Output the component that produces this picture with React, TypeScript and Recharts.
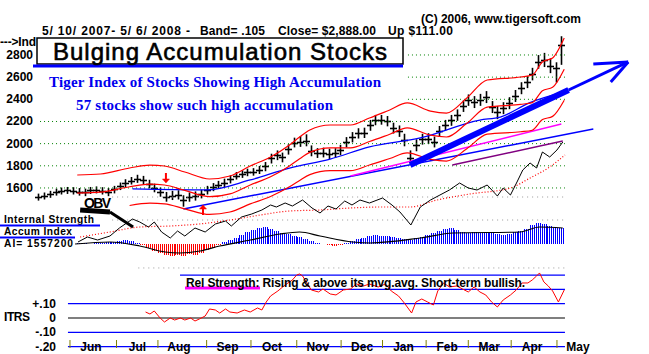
import React from "react";
import {
  ComposedChart,
  XAxis,
  YAxis,
  Line,
  Bar,
  Scatter,
  ReferenceLine,
} from "recharts";

const W = 649;
const H = 354;
const SANS = "'Liberation Sans', Arial, sans-serif";
const SERIF = "'Liberation Serif', 'Times New Roman', serif";

// month ticks (session days from 5/10/2007)
const monthTicks = [22, 54, 82.5, 116, 146.5, 178, 208.5, 237, 267, 296, 325.5, 357];
const monthLabels = ["Jun", "Jul", "Aug", "Sep", "Oct", "Nov", "Dec", "Jan", "Feb", "Mar", "Apr", "May"];
const priceTicks = [1600, 1800, 2000, 2200, 2400, 2600, 2800];
const itrsTicks = [0.1, 0, -0.1, -0.2];
const itrsTickLabels: Record<string, string> = { "0.1": "+.10", "0": "0", "-0.1": "-.10", "-0.2": "-.20" };

// price bars, every 4 sessions
const barDays = [
  0, 4, 8, 12, 16, 20, 24, 28, 32, 36, 40, 44, 48, 52, 56, 60, 64, 68, 72, 76, 80, 84, 88, 92, 96,
  100, 104, 108, 112, 116, 120, 124, 128, 132, 136, 140, 144, 148, 152, 156, 160, 164, 168, 172,
  176, 180, 184, 188, 192, 196, 200, 204, 208, 212, 216, 220, 224, 228, 232, 236, 240, 244, 248,
  252, 256, 260, 264, 268, 272, 276, 280, 284, 288, 292, 296, 300, 304, 308, 312, 316, 320, 324,
  328, 332, 336, 340, 344, 348, 352, 356, 360,
];
const closes = [
  1518, 1530, 1546, 1564, 1573, 1582, 1573, 1566, 1560, 1580, 1584, 1573, 1562, 1591, 1618, 1645,
  1667, 1683, 1672, 1636, 1600, 1562, 1520, 1530, 1540, 1490, 1520, 1528, 1546, 1582, 1609, 1630,
  1645, 1680, 1712, 1726, 1740, 1748, 1762, 1795, 1870, 1897, 1875, 1952, 2010, 2015, 2025, 1934,
  1916, 1918, 1905, 1916, 1943, 2015, 2060, 2096, 2096, 2168, 2213, 2215, 2204, 2141, 2114, 2033,
  1870, 1988, 2042, 2045, 2015, 2114, 2168, 2213, 2258, 2340, 2394, 2376, 2394, 2421, 2331, 2285,
  2322, 2367, 2430, 2502, 2556, 2628, 2737, 2755, 2700, 2680, 2888,
];
const lows = [
  1495, 1505, 1520, 1540, 1550, 1555, 1550, 1540, 1535, 1555, 1560, 1550, 1535, 1560, 1590, 1615,
  1640, 1655, 1645, 1605, 1570, 1530, 1485, 1500, 1505, 1440, 1485, 1495, 1515, 1550, 1580, 1600,
  1615, 1650, 1685, 1700, 1715, 1720, 1735, 1760, 1830, 1860, 1840, 1910, 1975, 1980, 1985, 1895,
  1880, 1885, 1870, 1880, 1905, 1975, 2020, 2055, 2060, 2125, 2175, 2180, 2165, 2100, 2070, 1985,
  1826, 1940, 2000, 2005, 1975, 2070, 2125, 2170, 2215, 2295, 2350, 2330, 2350, 2375, 2285, 2230,
  2275, 2320, 2385, 2455, 2510, 2580, 2685, 2700, 2645, 2560, 2720,
];
const highs = [
  1540, 1550, 1565, 1585, 1595, 1600, 1598, 1590, 1585, 1600, 1605, 1598, 1590, 1610, 1640, 1670,
  1690, 1710, 1700, 1665, 1630, 1595, 1555, 1565, 1570, 1525, 1550, 1560, 1575, 1610, 1635, 1655,
  1675, 1705, 1735, 1750, 1765, 1770, 1790, 1825, 1900, 1930, 1910, 1985, 2045, 2060, 2075, 1975,
  1950, 1955, 1945, 1950, 1980, 2050, 2095, 2130, 2135, 2205, 2250, 2250, 2240, 2180, 2155, 2080,
  1930, 2030, 2080, 2085, 2055, 2150, 2205, 2250, 2300, 2380, 2435, 2420, 2440, 2465, 2375, 2330,
  2365, 2410, 2475, 2545, 2600, 2675, 2790, 2810, 2760, 2725, 2960,
];
// accumulation index histogram
const accum = [
  0, 0, 0, 0, 0, 0, 0, 1, 1, 0, 1, 1, 2, 2, 3, 4, 3, 1, -1, -4, -7, -9, -11, -12, -11, -12, -10,
  -11, -9, -6, -4, -1, 2, 4, 6, 9, 12, 14, 16, 17, 15, 13, 11, 10, 8, 7, 5, 3, 1, 0, -1, -2, -1, 1,
  3, 5, 6, 8, 9, 8, 8, 7, 6, 5, 4, 6, 7, 9, 11, 13, 15, 16, 14, 12, 11, 12, 11, 12, 11, 10, 9, 10,
  12, 13, 15, 19, 21, 20, 18, 16, 16,
];

// 21-day band
const bandDays = [27, 43, 63, 77, 87, 101, 118, 132, 146, 160, 173, 180, 187, 201, 215, 228, 242, 254, 270, 281, 295, 309, 332, 340, 347, 354, 362];
const upperBand = [1717, 1726, 1780, 1807, 1798, 1744, 1681, 1708, 1798, 1880, 1988, 2060, 2123, 2168, 2168, 2231, 2304, 2367, 2294, 2276, 2412, 2574, 2601, 2619, 2737, 2773, 2953];
const midBand = [1554, 1562, 1611, 1635, 1627, 1578, 1521, 1546, 1627, 1701, 1799, 1864, 1921, 1962, 1962, 2019, 2085, 2142, 2076, 2060, 2183, 2329, 2354, 2370, 2477, 2509, 2672];
const lowerBand = [null, null, 1442, 1463, 1456, 1412, 1361, 1383, 1456, 1523, 1610, 1668, 1720, 1756, 1756, 1807, 1866, 1917, 1858, 1843, 1954, 2085, 2107, 2121, 2217, 2246, 2392];

// 50-day ma
const maDays = [65, 116, 146, 173, 201, 228, 263, 304, 318, 338, 362];
const ma50 = [1591, 1582, 1672, 1780, 1861, 1970, 2051, 2213, 2240, 2367, 2466];

// trend lines
const trendDays = [100, 382];
const trendVals = [1410, 2132];
const magDays = [215, 360];
const magVals = [1708, 2177];
const obvTrendDays = [285, 361];
const obvTrendVals = [75, 99];

// OBV
const obvDays = [27.5, 34, 41, 49.5, 56, 65, 70, 76, 80, 85, 91, 96, 101, 108, 115, 122, 129, 133, 140, 147, 154, 160, 164, 170, 175, 182, 188.5, 194, 199.5, 205, 211, 216, 221.5, 228, 237, 243.5, 249, 256.5, 263, 270, 276.5, 283, 290, 296, 302, 309, 316, 320, 325, 329.5, 333.5, 338.5, 343, 347, 352, 357, 361];
const obv = [-2, 3, 0, 4, 12, 21, 18, 13, 18, 8, 2, 9, 4, 12, 8, 16, 19, 14, 23, 26, 30, 35, 33, 37, 34, 40, 32, 27, 34, 31, 39, 35, 40, 37, 42, 35, 28, 15, 33, 40, 45, 50, 57, 52, 50, 55, 44, 52, 45, 58, 70, 77, 72, 88, 83, 90, 98];
const obvMaDays = [29, 49.5, 70, 91, 111, 132, 153, 173, 194, 215, 235, 256, 274.5, 297, 325, 338.5, 352, 362.5];
const obvMa = [3, 8, 13, 14, 16, 20, 25, 29, 30, 32, 33, 33, 40, 46, 52, 62, 73, 85];

// AI moving average
const aiMaDays = [25.5, 49.5, 70, 87.5, 97.5, 111.5, 125, 146, 166.5, 180, 194, 216.5, 228.5, 263, 285.5, 331.5, 345, 361];
const aiMa = [0, 2, -2, -8, -9, -7, -2, 4, 10, 12, 8, 2, 1, 6, 11, 12, 17, 16];

// ITRS (relative strength)
const itrsDays = [74, 77, 80, 84, 87, 91, 94, 98, 101, 105, 108, 111, 115, 118, 122, 125, 129, 132, 137, 142, 146, 151, 154, 157, 160, 165, 170, 175, 178, 180, 182, 185, 188, 193, 196, 201, 205, 210, 215, 219, 224, 228, 234, 239, 243, 248, 252, 257, 260, 264, 268, 272, 275, 279, 283, 288, 292, 296, 300, 304, 308, 312, 316, 320, 325, 329, 333, 337, 340, 343, 345, 348, 351, 354, 358, 362];
const itrs = [0.042, 0.028, 0.049, 0.0, -0.028, 0.0, -0.014, 0.0, -0.014, 0.0, -0.021, -0.007, 0.014, 0.063, 0.056, 0.035, 0.063, 0.042, 0.035, 0.056, 0.042, 0.07, 0.056, 0.112, 0.154, 0.189, 0.231, 0.266, 0.301, 0.308, 0.294, 0.245, 0.196, 0.182, 0.203, 0.168, 0.161, 0.196, 0.203, 0.238, 0.224, 0.238, 0.217, 0.238, 0.189, 0.154, 0.105, 0.035, 0.112, 0.133, 0.112, 0.091, 0.189, 0.245, 0.217, 0.224, 0.203, 0.182, 0.217, 0.182, 0.161, 0.112, 0.077, 0.126, 0.161, 0.196, 0.245, 0.245, 0.266, 0.294, 0.315, 0.252, 0.224, 0.189, 0.112, 0.196];

// buy / sell signals
const signals = [
  { d: 88, p: 1690, kind: "sell" },
  { d: 113.5, p: 1401, kind: "buy" },
];

const bars = barDays.map((d, i) => ({
  d,
  cl: closes[i],
  lo: lows[i],
  hi: highs[i],
  range: [lows[i], highs[i]],
  ai: accum[i],
}));
const pts = (days: number[], vals: (number | null)[]) => days.map((d, i) => ({ d, v: vals[i] }));

const HlcBar = (props: any) => {
  const { x, y, width, height, payload } = props;
  if (!payload || x == null) return null;
  const top = Math.min(y, y + height);
  const h = Math.abs(height);
  const cx = Math.round(x + width / 2) + 0.5;
  const cy = Math.round(top + (h * (payload.hi - payload.cl)) / (payload.hi - payload.lo)) + 0.5;
  return (
    <g stroke="#000" strokeWidth={1.6}>
      <line x1={cx} x2={cx} y1={top - 1} y2={top + h + 1} />
      <line x1={cx - 3.5} x2={cx + 3.5} y1={cy} y2={cy} />
    </g>
  );
};

const AiBar = (props: any) => {
  const { x, y, width, height, payload } = props;
  if (!payload || !payload.ai) return null;
  const top = Math.min(y, y + height);
  const h = Math.abs(height);
  const cx = Math.round(x + width / 2);
  const color = payload.ai >= 0 ? "#0000ff" : "#ff0000";
  return (
    <g stroke={color} strokeWidth={1}>
      {[-2, 0, 2].map((k) => (
        <line key={k} x1={cx + k + 0.5} x2={cx + k + 0.5} y1={top} y2={top + h} />
      ))}
    </g>
  );
};

const SignalArrow = (props: any) => {
  const { cx, cy, payload } = props;
  const dir = payload.kind === "sell" ? 1 : -1;
  return (
    <g fill="#ff0000" stroke="#ff0000">
      <line x1={cx} x2={cx} y1={cy - 5 * dir} y2={cy + dir} strokeWidth={2} />
      <polygon points={`${cx - 3.5},${cy + dir} ${cx + 3.5},${cy + dir} ${cx},${cy + 5 * dir}`} strokeWidth={0.5} />
    </g>
  );
};

const MonthTick = (props: any) => {
  const { x, payload } = props;
  const idx = monthTicks.indexOf(payload.value);
  return (
    <g>
      <line x1={x} x2={x} y1={340} y2={348} stroke="#808000" strokeWidth={1} />
      <text x={x + 21} y={351} textAnchor="middle" fontFamily={SANS} fontWeight="bold" fontSize={12} fill="#000">
        {monthLabels[idx]}
      </text>
    </g>
  );
};

const PriceTick = (props: any) => (
  <text x={33} y={props.y + 4} textAnchor="end" fontFamily={SANS} fontWeight="bold" fontSize={12} fill="#000">
    {props.payload.value}
  </text>
);

const ItrsTick = (props: any) => (
  <text x={56} y={props.y + 4} textAnchor="end" fontFamily={SANS} fontWeight="bold" fontSize={12} fill="#000">
    {itrsTickLabels[String(props.payload.value)]}
  </text>
);

const seg = (x1: number, x2: number, y: number) => [
  { x: x1, y },
  { x: x2, y },
];

const lbl = { fontFamily: SANS, fontWeight: "bold" as const, fontSize: 12, fill: "#000" };
const lineProps = { dot: false, activeDot: false, isAnimationActive: false, legendType: "none" as const };

export default function App() {
  return (
    <div style={{ position: "absolute", left: 0, top: 0, width: W, height: H, background: "#fff" }}>
      <ComposedChart
        width={W}
        height={H}
        data={bars}
        margin={{ top: 0, right: 0, bottom: -1, left: -2 }}
        barGap={0}
        barCategoryGap={0}
      >
        <XAxis
          dataKey="d"
          type="number"
          domain={[-26.14, 420.31]}
          allowDataOverflow
          ticks={monthTicks}
          interval={0}
          height={1}
          axisLine={false}
          tickLine={false}
          tick={<MonthTick />}
        />
        <YAxis
          yAxisId="price"
          type="number"
          domain={[101.9, 3296]}
          allowDataOverflow
          ticks={priceTicks}
          interval={0}
          width={1}
          axisLine={false}
          tickLine={false}
          tick={<PriceTick />}
        />
        <YAxis
          yAxisId="itrs"
          type="number"
          domain={[-0.2517, 2.2238]}
          allowDataOverflow
          ticks={itrsTicks}
          interval={0}
          width={1}
          axisLine={false}
          tickLine={false}
          tick={<ItrsTick />}
        />
        <YAxis yAxisId="obv" type="number" domain={[-114, 240]} allowDataOverflow hide />
        <YAxis yAxisId="ai" type="number" domain={[-110, 244]} allowDataOverflow hide />

        {/* price grid */}
        {priceTicks.map((p) => (
          <ReferenceLine
            key={p}
            yAxisId="price"
            segment={seg(p >= 2400 ? 254.5 : 1.4, 362.5, p)}
            stroke="#008000"
            strokeDasharray="1 3"
          />
        ))}
        {/* obv grid */}
        {[43, 20].map((v) => (
          <ReferenceLine key={v} yAxisId="obv" segment={seg(51, 362.5, v)} stroke="#999" strokeDasharray="1 4" />
        ))}
        {/* itrs levels */}
        <ReferenceLine yAxisId="itrs" segment={seg(69, 362.5, 0.35)} stroke="#999" strokeDasharray="1 4" />
        <ReferenceLine yAxisId="itrs" segment={seg(97.7, 362.5, 0.3)} stroke="#0000ff" strokeWidth={1.2} />
        <ReferenceLine yAxisId="itrs" segment={seg(178, 362.5, 0.2)} stroke="#0000ff" strokeWidth={1.2} />
        <ReferenceLine yAxisId="itrs" segment={seg(20.6, 362.5, 0.1)} stroke="#0000ff" strokeWidth={1.2} />
        <ReferenceLine yAxisId="itrs" segment={seg(20.6, 362.5, 0)} stroke="#000" strokeWidth={1.2} />
        <ReferenceLine yAxisId="itrs" segment={seg(20.6, 362.5, -0.1)} stroke="#0000ff" strokeWidth={1.2} />
        <ReferenceLine yAxisId="itrs" segment={seg(20.6, 362.5, -0.2)} stroke="#0000ff" strokeWidth={1.2} />

        {/* accumulation index */}
        <Bar yAxisId="ai" dataKey="ai" barSize={3} shape={<AiBar />} isAnimationActive={false} />
        <Line yAxisId="ai" data={pts(aiMaDays, aiMa)} dataKey="v" type="monotone" stroke="#000" strokeWidth={1.2} {...lineProps} />

        {/* OBV */}
        <Line yAxisId="obv" data={pts(obvMaDays, obvMa)} dataKey="v" type="monotone" stroke="#ff0000" strokeDasharray="1 2" strokeWidth={1.2} {...lineProps} />
        <Line yAxisId="obv" data={pts(obvDays, obv)} dataKey="v" type="linear" stroke="#000" strokeWidth={1} {...lineProps} />
        <Line yAxisId="obv" data={pts(obvTrendDays, obvTrendVals)} dataKey="v" type="linear" stroke="#800080" strokeWidth={1.5} {...lineProps} />

        {/* relative strength */}
        <Line yAxisId="itrs" data={pts(itrsDays, itrs)} dataKey="v" type="linear" stroke="#ff0000" strokeWidth={1} {...lineProps} />

        {/* price overlays */}
        <Line yAxisId="price" data={pts(trendDays, trendVals)} dataKey="v" type="linear" stroke="#0000ff" strokeWidth={1.5} {...lineProps} />
        <Line yAxisId="price" data={pts(magDays, magVals)} dataKey="v" type="linear" stroke="#ff00ff" strokeWidth={1.5} {...lineProps} />
        <Line yAxisId="price" data={pts(maDays, ma50)} dataKey="v" type="monotone" stroke="#0000ff" strokeWidth={1.3} {...lineProps} />
        <Line yAxisId="price" data={pts(bandDays, upperBand)} dataKey="v" type="monotone" stroke="#ff0000" strokeWidth={1.2} {...lineProps} />
        <Line yAxisId="price" data={pts(bandDays, midBand)} dataKey="v" type="monotone" stroke="#ff0000" strokeWidth={1.2} {...lineProps} />
        <Line yAxisId="price" data={pts(bandDays, lowerBand)} dataKey="v" type="monotone" stroke="#ff0000" strokeWidth={1.2} {...lineProps} />

        <Bar yAxisId="price" dataKey="range" barSize={2} shape={<HlcBar />} isAnimationActive={false} />

        <Scatter yAxisId="price" data={signals} dataKey="p" shape={<SignalArrow />} isAnimationActive={false} />

        {/* annotation arrow */}
        <ReferenceLine yAxisId="price" segment={[{ x: 256, y: 1807 }, { x: 365, y: 2484 }]} stroke="#0000ff" strokeWidth={6} />
        <ReferenceLine yAxisId="price" segment={[{ x: 365, y: 2484 }, { x: 406, y: 2737 }]} stroke="#0000ff" strokeWidth={3} />
        <ReferenceLine yAxisId="price" segment={[{ x: 406, y: 2737 }, { x: 382, y: 2719 }]} stroke="#0000ff" strokeWidth={3} />
        <ReferenceLine yAxisId="price" segment={[{ x: 406, y: 2737 }, { x: 394, y: 2556 }]} stroke="#0000ff" strokeWidth={3} />
        {/* OBV pointer */}
        <ReferenceLine yAxisId="obv" segment={[{ x: 29, y: 30 }, { x: 49.5, y: 28 }]} stroke="#000" strokeWidth={5} />
        <ReferenceLine yAxisId="obv" segment={[{ x: 49.5, y: 28 }, { x: 65.4, y: 13 }]} stroke="#000" strokeWidth={3} />
      </ComposedChart>

      <svg width={W} height={H} style={{ position: "absolute", left: 0, top: 0, pointerEvents: "none" }}>
        <text x={421} y={23} {...lbl} textLength={160}>(C) 2006, www.tigersoft.com</text>
        <text x={42} y={35} {...lbl} textLength={148}>5/ 10/ 2007- 5/ 6/ 2008 -</text>
        <text x={200} y={35} {...lbl} textLength={65}>Band= .105</text>
        <text x={278} y={35} {...lbl} textLength={98}>Close= $2,888.00</text>
        <text x={388} y={35} {...lbl} textLength={65}>Up $111.00</text>
        <text x={0} y={46} {...lbl} textLength={36}>---&gt;Ind</text>

        <rect x={37} y={38} width={366} height={26} fill="#fff" stroke="#000" strokeWidth={1.5} />
        <line x1={33} x2={403} y1={66} y2={66} stroke="#0000ff" strokeWidth={3} />
        <text x={53} y={60} fontFamily={SANS} fontSize={24} fill="#000" stroke="#000" strokeWidth={0.6} textLength={334}>
          Bulging Accumulation Stocks
        </text>

        <text x={49} y={87} fontFamily={SERIF} fontWeight="bold" fontSize={15} fill="#0000ee" textLength={332}>
          Tiger Index of Stocks Showing High Accumulation
        </text>
        <text x={76} y={110} fontFamily={SERIF} fontWeight="bold" fontSize={15} fill="#0000ee" textLength={257}>
          57 stocks show such high accumulation
        </text>

        <text x={84} y={208} {...lbl} fontSize={14} textLength={27}>OBV</text>
        <text x={4} y={223} {...lbl} fontSize={10.2} textLength={90}>Internal Strength</text>
        <line x1={0} x2={100} y1={225.5} y2={225.5} stroke="#0000ff" strokeWidth={2} />
        <text x={4} y={235} {...lbl} fontSize={10.2} textLength={68}>Accum Index</text>
        <line x1={0} x2={75} y1={237.5} y2={237.5} stroke="#0000ff" strokeWidth={2} />
        <text x={4} y={247} {...lbl} fontSize={10.2} textLength={69}>AI= 1557200</text>

        <line x1={185} x2={260} y1={288} y2={288} stroke="#ff00ff" strokeWidth={3} />
        <text x={186} y={287} {...lbl} textLength={339}>Rel Strength: Rising &amp; above its mvg.avg. Short-term bullish.</text>
        <text x={4} y={321} {...lbl} textLength={26}>ITRS</text>
      </svg>
    </div>
  );
}
